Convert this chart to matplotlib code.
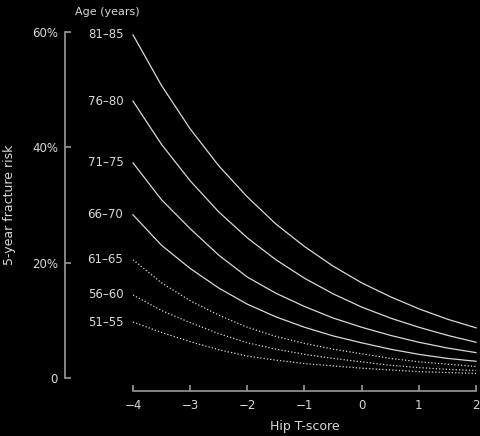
import matplotlib
matplotlib.use("Agg")
import matplotlib.pyplot as plt

t_score = [-4, -3.5, -3, -2.5, -2, -1.5, -1, -0.5, 0, 0.5, 1, 1.5, 2]
ages = ["81–85", "76–80", "71–75", "66–70", "61–65", "56–60", "51–55"]
risk = [
    [59.5, 50.7, 43.2, 36.8, 31.4, 26.7, 22.8, 19.4, 16.5, 14.1, 12.0, 10.2, 8.7],
    [48.0, 40.5, 34.2, 28.8, 24.3, 20.5, 17.3, 14.6, 12.3, 10.4, 8.8, 7.4, 6.2],
    [37.3, 30.9, 25.9, 21.3, 17.5, 14.7, 12.4, 10.4, 8.8, 7.4, 6.2, 5.2, 4.4],
    [28.3, 23.0, 19.0, 15.6, 12.8, 10.6, 8.8, 7.3, 6.1, 5.0, 4.1, 3.4, 2.9],
    [20.5, 16.5, 13.4, 10.9, 8.8, 7.2, 6.0, 5.0, 4.2, 3.4, 2.8, 2.4, 2.0],
    [14.4, 11.7, 9.6, 7.7, 6.1, 5.0, 4.1, 3.4, 2.8, 2.2, 1.8, 1.5, 1.3],
    [9.7, 7.9, 6.3, 4.9, 3.8, 3.1, 2.5, 2.1, 1.7, 1.4, 1.1, 0.95, 0.8],
]
styles = ["-", "-", "-", "-", ":", ":", ":"]
x_ticks = [-4, -3, -2, -1, 0, 1, 2]
x_tick_labels = ["−4", "−3", "−2", "−1", "0", "1", "2"]
y_ticks = [0, 20, 40, 60]
y_tick_labels = ["0", "20%", "40%", "60%"]

fg = "#d8d8d8"
spine_c = "#9a9a9a"

fig = plt.figure(figsize=(4.8, 4.36), dpi=100, facecolor="black")
ax = fig.add_axes([133/480, 58/436, 343/480, 346/436], facecolor="black")

for vals, lab, ls in zip(risk, ages, styles):
    ax.plot(t_score, vals, color=fg, lw=0.9, ls=ls, clip_on=False,
            solid_joinstyle="round")
    ax.text(-4.17, vals[0], lab, ha="right", va="center", color=fg, fontsize=8.5)

ax.text(-4.45, 63.4, "Age (years)", ha="center", va="center", color=fg, fontsize=8)

ax.set_xlim(-4, 2)
ax.set_ylim(0, 60)
for s in ["top", "right"]:
    ax.spines[s].set_visible(False)
ax.spines["left"].set_position(("outward", 49))
ax.spines["bottom"].set_position(("outward", 9.4))
for s in ["left", "bottom"]:
    ax.spines[s].set_color(spine_c)
    ax.spines[s].set_linewidth(1.2)

ax.set_xticks(x_ticks)
ax.set_xticklabels(x_tick_labels)
ax.set_yticks(y_ticks)
ax.set_yticklabels(y_tick_labels)
ax.tick_params(axis="both", direction="in", length=4, width=1.2, color=spine_c,
               labelcolor=fg, labelsize=8.5)
ax.tick_params(axis="y", pad=5)
ax.tick_params(axis="x", pad=6)

ax.set_xlabel("Hip T-score", color=fg, fontsize=9)
ax.set_ylabel("5-year fracture risk", color=fg, fontsize=9)
ax.xaxis.set_label_coords((305 - 133) / 343, (436 - 426) / 346 - 58 / 346)
ax.yaxis.set_label_coords((10 - 133) / 343, (436 - 205 - 58) / 346)
ax.xaxis.label.set_va("center")
ax.yaxis.label.set_va("center")

fig.savefig("out.png", dpi=100, facecolor="black")
